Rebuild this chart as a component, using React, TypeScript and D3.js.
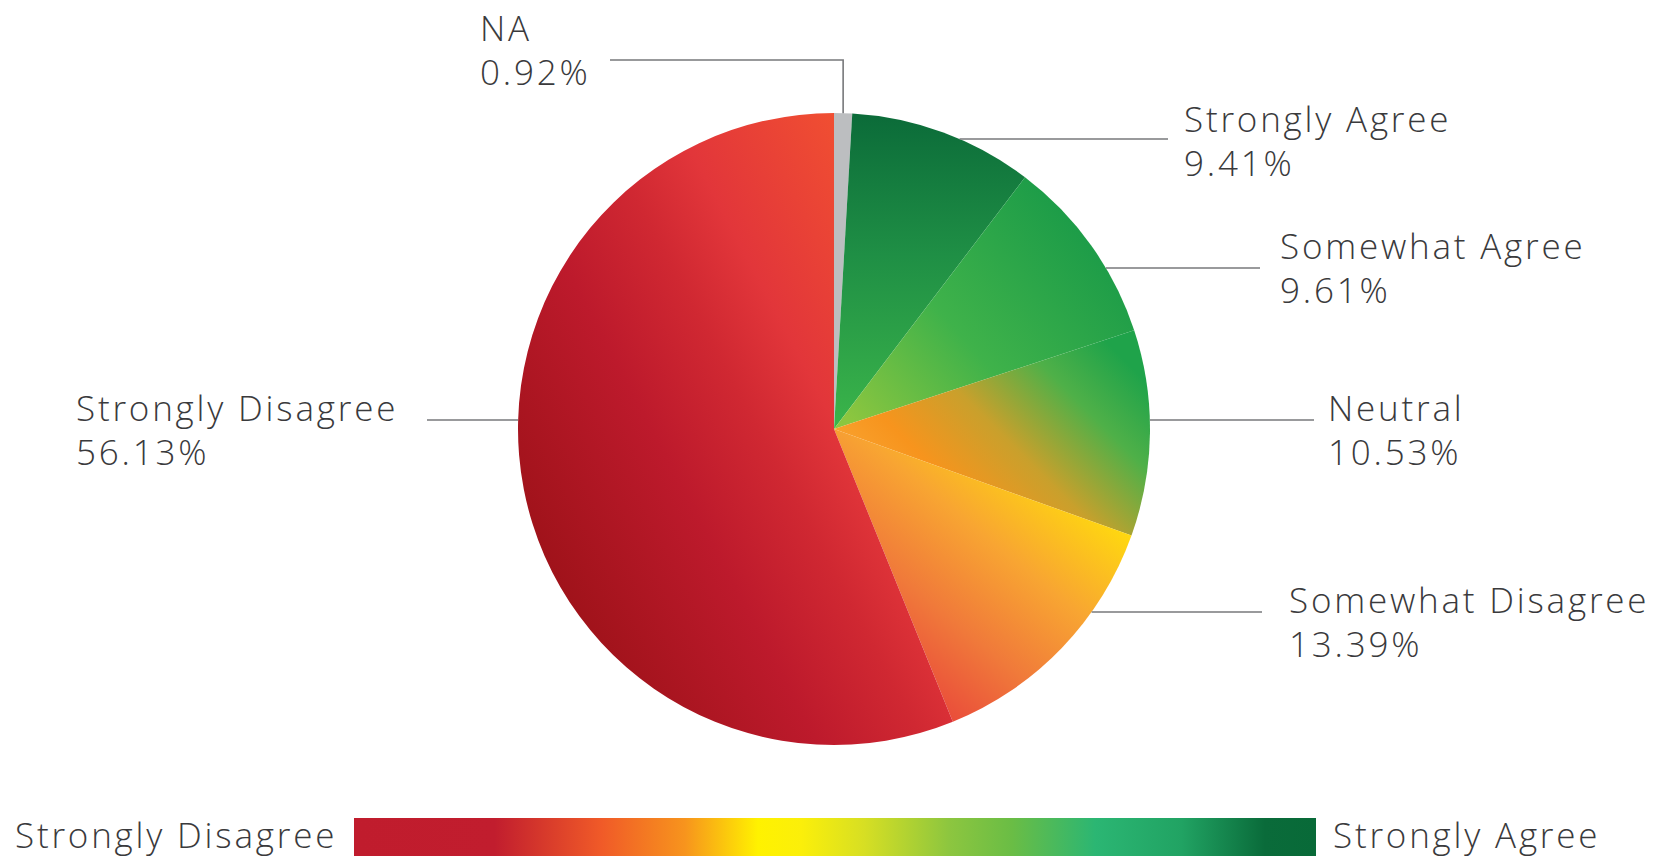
import React from "react";
import * as d3 from "d3";

// ---- data ----
const categories = ["NA", "Strongly Agree", "Somewhat Agree", "Neutral", "Somewhat Disagree", "Strongly Disagree"];
const percentages = [0.92, 9.41, 9.61, 10.53, 13.39, 56.13];
const legendLabels = ["Strongly Disagree", "Strongly Agree"];
const legendStopOffsets = [0, 0.146, 0.257, 0.344, 0.42, 0.465, 0.53, 0.618, 0.684, 0.771, 0.86, 0.947, 1];
const legendStopColors = ["#c01c2d", "#c11d2e", "#f05a28", "#f7941d", "#fff200", "#fbef0a", "#d7df23", "#8dc63f", "#6abd45", "#2bb673", "#21a363", "#0a6b3a", "#086a38"];

// ---- layout ----
const W = 1653;
const H = 856;
const CX = 834;
const CY = 429;
const R = 316;
const FONT = "'Open Sans', 'DejaVu Sans', sans-serif";
const FS = 35;
const LS = 2.8;
const TEXT = "#3a3a3c";
const LINE = "#77787b";

// per-slice gradients (coordinates relative to pie centre)
const sliceGradients: Record<string, { x1: number; y1: number; x2: number; y2: number; stops: [number, string][] }> = {
  "NA": { x1: 0, y1: -R, x2: 0, y2: 0, stops: [[0, "#bcbec0"], [1, "#bcbec0"]] },
  "Strongly Agree": { x1: 0, y1: -R, x2: 0, y2: 0, stops: [[0, "#0b6b39"], [0.45, "#1f8f45"], [1, "#3bb54a"]] },
  "Somewhat Agree": { x1: 20, y1: -5, x2: 250, y2: -210, stops: [[0, "#8cc63f"], [0.45, "#3fb24a"], [1, "#1b9b48"]] },
  "Neutral": { x1: 40, y1: 120, x2: 260, y2: -100, stops: [[0, "#fbb040"], [0.32, "#f7941d"], [0.55, "#c9a02c"], [0.8, "#4fb048"], [1, "#1fa34a"]] },
  "Somewhat Disagree": { x1: 70, y1: 280, x2: 250, y2: 60, stops: [[0, "#e8413a"], [0.35, "#f07a3a"], [0.65, "#f8a532"], [1, "#ffdc0d"]] },
  "Strongly Disagree": { x1: -R, y1: 100, x2: 100, y2: -120, stops: [[0, "#9e1219"], [0.35, "#bd1a2c"], [0.55, "#d02832"], [0.7, "#e2363a"], [1, "#f04e32"]] },
};

type LabelLayout = { tx: number; ty: number; ly: number; lx: number; side: "left" | "right" | "top" };
const labelLayout: Record<string, LabelLayout> = {
  "NA": { tx: 480, ty: 41, ly: 60, lx: 610, side: "top" },
  "Strongly Agree": { tx: 1184, ty: 132, ly: 139, lx: 1168, side: "right" },
  "Somewhat Agree": { tx: 1280, ty: 259, ly: 268, lx: 1260, side: "right" },
  "Neutral": { tx: 1328, ty: 421, ly: 420, lx: 1314, side: "right" },
  "Somewhat Disagree": { tx: 1289, ty: 613, ly: 612, lx: 1262, side: "right" },
  "Strongly Disagree": { tx: 76, ty: 421, ly: 420, lx: 427, side: "left" },
};
const LINE_GAP = 44;

const LEG_X0 = 354;
const LEG_X1 = 1316;
const LEG_Y = 818;
const LEG_H = 44;

export default function App() {
  const pie = d3.pie<number>().sort(null).value((d) => d);
  const arcs = pie(percentages);
  const arcGen = d3.arc<d3.PieArcDatum<number>>().innerRadius(0).outerRadius(R);
  const fmt = (v: number) => v.toFixed(2) + "%";

  const edgeX = (y: number, side: number) => CX + side * Math.sqrt(Math.max(0, R * R - (y - CY) * (y - CY)));

  const legendScale = d3.scaleLinear().domain([0, 1]).range([LEG_X0, LEG_X1]);

  return (
    <svg width={W} height={H} viewBox={`0 0 ${W} ${H}`} style={{ position: "absolute", left: 0, top: 0, background: "#fff" }}>
      <defs>
        {categories.map((c, i) => {
          const g = sliceGradients[c];
          return (
            <linearGradient key={c} id={`sg${i}`} gradientUnits="userSpaceOnUse" x1={g.x1} y1={g.y1} x2={g.x2} y2={g.y2}>
              {g.stops.map(([o, col], j) => (
                <stop key={j} offset={o} stopColor={col} />
              ))}
            </linearGradient>
          );
        })}
        <linearGradient id="legendGrad" x1="0" y1="0" x2="1" y2="0">
          {legendStopOffsets.map((o, j) => (
            <stop key={j} offset={o} stopColor={legendStopColors[j]} />
          ))}
        </linearGradient>
      </defs>
      <rect x={0} y={0} width={W} height={H} fill="#fff" />

      <g transform={`translate(${CX},${CY})`}>
        {arcs.map((a, i) => (
          <path key={categories[i]} d={arcGen(a) || ""} fill={`url(#sg${i})`} />
        ))}
      </g>

      {/* leader lines */}
      {arcs.map((a, i) => {
        const c = categories[i];
        const L = labelLayout[c];
        if (L.side === "top") {
          const mid = (a.startAngle + a.endAngle) / 2;
          const px = CX + R * Math.sin(mid);
          const py = CY - R * Math.cos(mid);
          return (
            <polyline key={c} points={`${L.lx},${L.ly} ${px},${L.ly} ${px},${py}`} fill="none" stroke={LINE} strokeWidth={1.6} />
          );
        }
        const sx = edgeX(L.ly, L.side === "right" ? 1 : -1);
        return <line key={c} x1={sx} y1={L.ly} x2={L.lx} y2={L.ly} stroke={LINE} strokeWidth={1.6} />;
      })}

      {/* labels */}
      {categories.map((c, i) => {
        const L = labelLayout[c];
        return (
          <text key={c} fontFamily={FONT} fontSize={FS} fontWeight={300} letterSpacing={LS} fill={TEXT}>
            <tspan x={L.tx} y={L.ty}>{c}</tspan>
            <tspan x={L.tx} y={L.ty + LINE_GAP}>{fmt(percentages[i])}</tspan>
          </text>
        );
      })}

      {/* legend */}
      <rect x={legendScale(0)} y={LEG_Y} width={legendScale(1) - legendScale(0)} height={LEG_H} fill="url(#legendGrad)" />
      <text x={15} y={848} fontFamily={FONT} fontSize={FS} fontWeight={300} letterSpacing={LS} fill={TEXT}>{legendLabels[0]}</text>
      <text x={1333} y={848} fontFamily={FONT} fontSize={FS} fontWeight={300} letterSpacing={LS} fill={TEXT}>{legendLabels[1]}</text>
    </svg>
  );
}
